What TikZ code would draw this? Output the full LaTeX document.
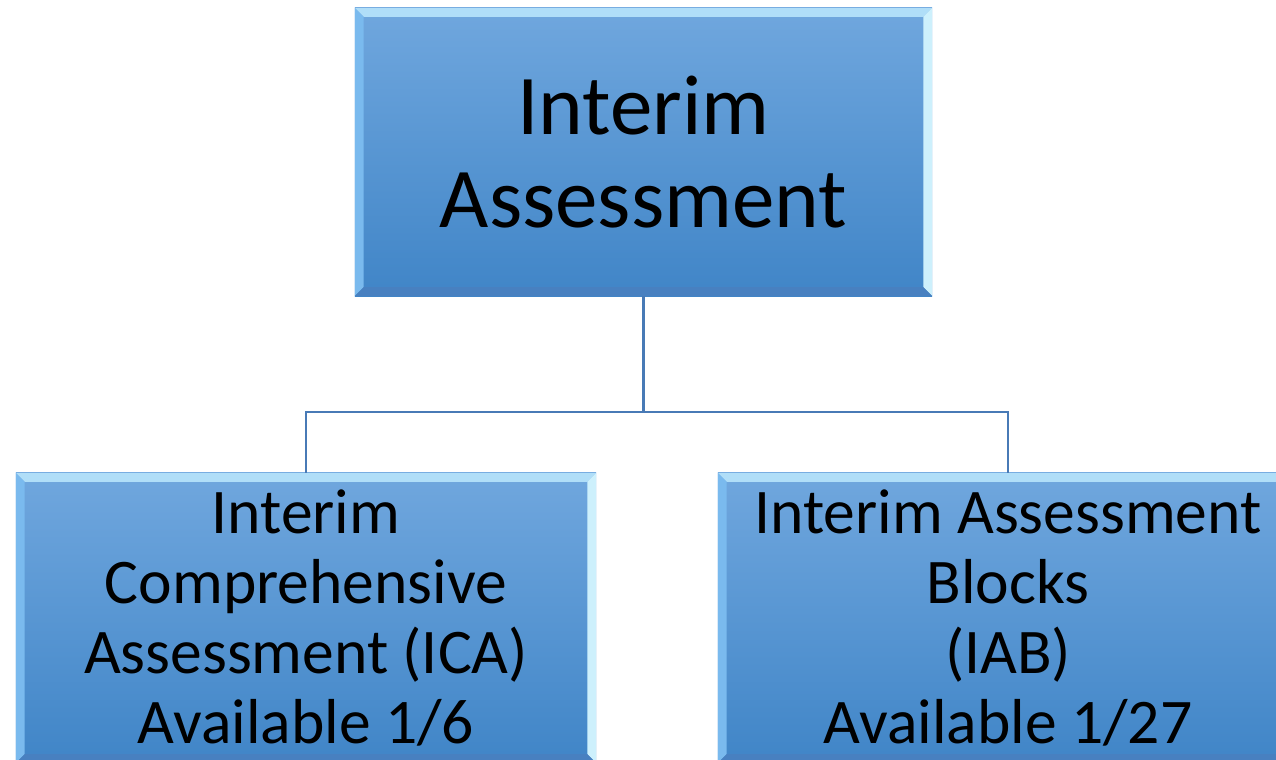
\documentclass[tikz,border=0pt]{standalone}
\usepackage{fontspec}
\setmainfont{Carlito}
\usetikzlibrary{calc,positioning}
\definecolor{boxtop}{RGB}{112,167,222}
\definecolor{boxbot}{RGB}{64,133,199}
\definecolor{bevtop}{RGB}{176,222,248}
\definecolor{bevleft}{RGB}{122,186,238}
\definecolor{bevright}{RGB}{205,240,252}
\definecolor{bevbot}{RGB}{72,128,192}
\definecolor{linecol}{RGB}{72,122,182}
\newcommand{\bev}{0.22cm}
\tikzset{
  assessbox/.style={
    rectangle,
    top color=boxtop,
    bottom color=boxbot,
    align=center,
    inner sep=0pt,
    path picture={
      % bevel edges
      \fill[bevtop] (path picture bounding box.north west) -- (path picture bounding box.north east)
        -- ([shift={(-\bev,-\bev)}]path picture bounding box.north east)
        -- ([shift={(\bev,-\bev)}]path picture bounding box.north west) -- cycle;
      \fill[bevleft] (path picture bounding box.north west) -- (path picture bounding box.south west)
        -- ([shift={(\bev,\bev)}]path picture bounding box.south west)
        -- ([shift={(\bev,-\bev)}]path picture bounding box.north west) -- cycle;
      \fill[bevright] (path picture bounding box.north east) -- (path picture bounding box.south east)
        -- ([shift={(-\bev,\bev)}]path picture bounding box.south east)
        -- ([shift={(-\bev,-\bev)}]path picture bounding box.north east) -- cycle;
      \fill[bevbot] (path picture bounding box.south west) -- (path picture bounding box.south east)
        -- ([shift={(-\bev,\bev)}]path picture bounding box.south east)
        -- ([shift={(\bev,\bev)}]path picture bounding box.south west) -- cycle;
    }},
  bigbox/.style={assessbox,
    minimum width=14.43cm,
    minimum height=7.2cm,
    font=\fontsize{60.5}{65.5}\selectfont},
  smallbox/.style={assessbox,
    minimum width=14.5cm,
    minimum height=7.25cm,
    font=\fontsize{45.2}{50}\selectfont},
  line/.style={draw=linecol, line width=2pt},
}

\begin{document}
\begin{tikzpicture}[x=0.025cm, y=-0.025cm]
  \useasboundingbox (0,0) rectangle (1276,760);
  \clip (0,0) rectangle (1276,760);

  \node[bigbox] (Interim) at (643.5,152) {Interim\\Assessment};
  \node[smallbox] (ICA) at (306,618)
    {Interim\\Comprehensive\\Assessment (ICA)\\Available 1/6};
  \node[smallbox] (IAB) at (1008,618)
    {Interim Assessment\\Blocks\\(IAB)\\Available 1/27};

  \coordinate (split) at (643.5,412);
  \draw[line] (Interim.south) -- (split);
  \draw[line] (split) -| (ICA.north);
  \draw[line] (split) -| (IAB.north);
\end{tikzpicture}
\end{document}
